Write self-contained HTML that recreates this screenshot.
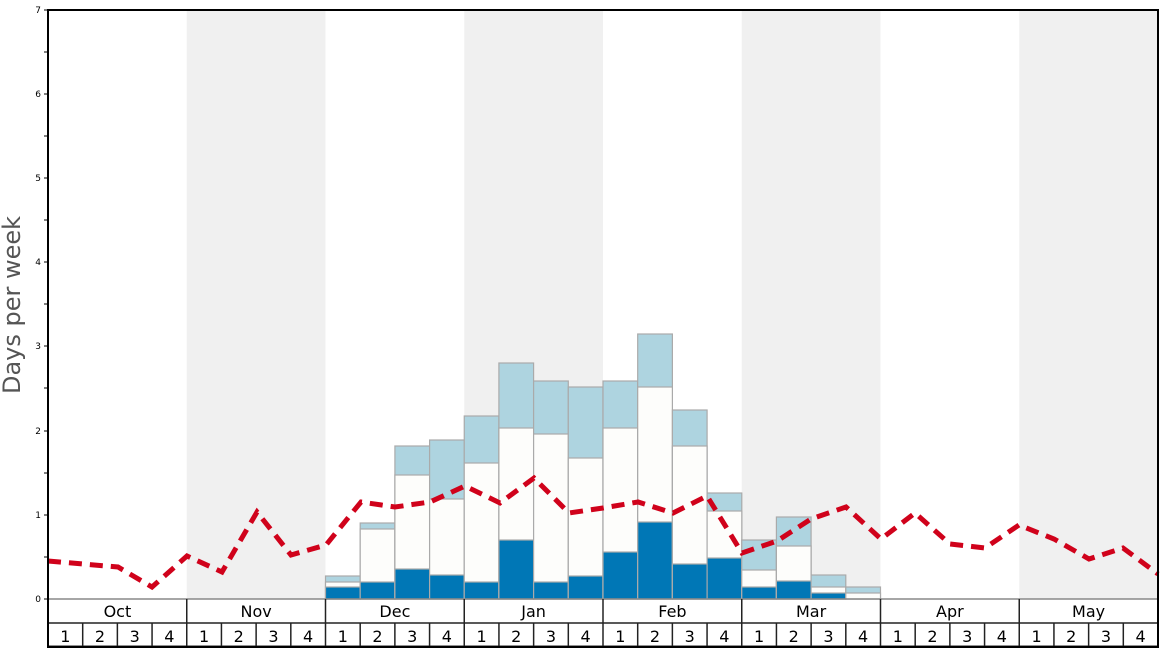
<!DOCTYPE html>
<html><head><meta charset="utf-8"><style>
html,body{margin:0;padding:0;background:#fff;}
svg{display:block;font-family:"DejaVu Sans","Liberation Sans",sans-serif;}
</style></head><body>
<svg width="1168" height="648" viewBox="0 0 1168 648" xmlns="http://www.w3.org/2000/svg">
<rect x="0" y="0" width="1168" height="648" fill="#fff"/>
<rect x="186.75" y="10" width="138.75" height="589" fill="#f0f0f0"/>
<rect x="464.25" y="10" width="138.75" height="589" fill="#f0f0f0"/>
<rect x="741.75" y="10" width="138.75" height="589" fill="#f0f0f0"/>
<rect x="1019.25" y="10" width="138.75" height="589" fill="#f0f0f0"/>
<g stroke="#aaa" stroke-width="1.2">
<rect x="325.5" y="576" width="34.69" height="23" fill="#aed4e0"/><rect x="325.5" y="582" width="34.69" height="17" fill="#fdfdfb"/><rect x="325.5" y="587" width="34.69" height="12" fill="#0077b6"/>
<rect x="360.2" y="523" width="34.69" height="76" fill="#aed4e0"/><rect x="360.2" y="529" width="34.69" height="70" fill="#fdfdfb"/><rect x="360.2" y="582" width="34.69" height="17" fill="#0077b6"/>
<rect x="394.9" y="446" width="34.69" height="153" fill="#aed4e0"/><rect x="394.9" y="475" width="34.69" height="124" fill="#fdfdfb"/><rect x="394.9" y="569" width="34.69" height="30" fill="#0077b6"/>
<rect x="429.6" y="440" width="34.69" height="159" fill="#aed4e0"/><rect x="429.6" y="499" width="34.69" height="100" fill="#fdfdfb"/><rect x="429.6" y="575" width="34.69" height="24" fill="#0077b6"/>
<rect x="464.25" y="416" width="34.69" height="183" fill="#aed4e0"/><rect x="464.25" y="463" width="34.69" height="136" fill="#fdfdfb"/><rect x="464.25" y="582" width="34.69" height="17" fill="#0077b6"/>
<rect x="498.9" y="363" width="34.69" height="236" fill="#aed4e0"/><rect x="498.9" y="428" width="34.69" height="171" fill="#fdfdfb"/><rect x="498.9" y="540" width="34.69" height="59" fill="#0077b6"/>
<rect x="533.6" y="381" width="34.69" height="218" fill="#aed4e0"/><rect x="533.6" y="434" width="34.69" height="165" fill="#fdfdfb"/><rect x="533.6" y="582" width="34.69" height="17" fill="#0077b6"/>
<rect x="568.3" y="387" width="34.69" height="212" fill="#aed4e0"/><rect x="568.3" y="458" width="34.69" height="141" fill="#fdfdfb"/><rect x="568.3" y="576" width="34.69" height="23" fill="#0077b6"/>
<rect x="603" y="381" width="34.69" height="218" fill="#aed4e0"/><rect x="603" y="428" width="34.69" height="171" fill="#fdfdfb"/><rect x="603" y="552" width="34.69" height="47" fill="#0077b6"/>
<rect x="637.7" y="334" width="34.69" height="265" fill="#aed4e0"/><rect x="637.7" y="387" width="34.69" height="212" fill="#fdfdfb"/><rect x="637.7" y="522" width="34.69" height="77" fill="#0077b6"/>
<rect x="672.4" y="410" width="34.69" height="189" fill="#aed4e0"/><rect x="672.4" y="446" width="34.69" height="153" fill="#fdfdfb"/><rect x="672.4" y="564" width="34.69" height="35" fill="#0077b6"/>
<rect x="707.1" y="493" width="34.69" height="106" fill="#aed4e0"/><rect x="707.1" y="511" width="34.69" height="88" fill="#fdfdfb"/><rect x="707.1" y="558" width="34.69" height="41" fill="#0077b6"/>
<rect x="741.75" y="540" width="34.69" height="59" fill="#aed4e0"/><rect x="741.75" y="570" width="34.69" height="29" fill="#fdfdfb"/><rect x="741.75" y="587" width="34.69" height="12" fill="#0077b6"/>
<rect x="776.4" y="517" width="34.69" height="82" fill="#aed4e0"/><rect x="776.4" y="546" width="34.69" height="53" fill="#fdfdfb"/><rect x="776.4" y="581" width="34.69" height="18" fill="#0077b6"/>
<rect x="811.1" y="575" width="34.69" height="24" fill="#aed4e0"/><rect x="811.1" y="587" width="34.69" height="12" fill="#fdfdfb"/><rect x="811.1" y="593" width="34.69" height="6" fill="#0077b6"/>
<rect x="845.8" y="587" width="34.69" height="12" fill="#aed4e0"/><rect x="845.8" y="593" width="34.69" height="6" fill="#fdfdfb"/>
</g>
<polyline fill="none" stroke="#d0021b" stroke-width="5" stroke-dasharray="13,8" points="48,561 83,564 118,567 152,587 187,556 222,572 257,512 291,555 326,545 361,502 395,507 430,502 465,486 500,503 534,478 569,513 603,508 638,502 673,513 707,496 742,553 777,541 811,519 846,507 881,539 915,513 950,544 985,548 1019,525 1054,539 1089,559 1123,548 1158,574"/>
<g stroke="#000" stroke-width="1">
<line x1="44" y1="10" x2="48" y2="10"/><line x1="44" y1="52" x2="48" y2="52"/>
<line x1="44" y1="94" x2="48" y2="94"/><line x1="44" y1="136" x2="48" y2="136"/>
<line x1="44" y1="178" x2="48" y2="178"/><line x1="44" y1="220" x2="48" y2="220"/>
<line x1="44" y1="262" x2="48" y2="262"/><line x1="44" y1="304" x2="48" y2="304"/>
<line x1="44" y1="346" x2="48" y2="346"/><line x1="44" y1="388" x2="48" y2="388"/>
<line x1="44" y1="431" x2="48" y2="431"/><line x1="44" y1="473" x2="48" y2="473"/>
<line x1="44" y1="515" x2="48" y2="515"/><line x1="44" y1="557" x2="48" y2="557"/>
<line x1="44" y1="599" x2="48" y2="599"/>
</g>
<g font-size="9" fill="#000" text-anchor="end">
<text x="41" y="13">7</text><text x="41" y="97">6</text><text x="41" y="181">5</text>
<text x="41" y="265">4</text><text x="41" y="349">3</text><text x="41" y="434">2</text>
<text x="41" y="518">1</text><text x="41" y="602">0</text>
</g>
<text transform="translate(20,305) rotate(-90)" font-size="24" fill="#555" text-anchor="middle">Days per week</text>
<line x1="48" y1="599" x2="1158" y2="599" stroke="#888" stroke-width="1.5"/>
<line x1="48" y1="623" x2="1158" y2="623" stroke="#222" stroke-width="1.5"/>
<line x1="48" y1="646.5" x2="1158" y2="646.5" stroke="#222" stroke-width="2"/>
<g stroke="#222" stroke-width="1.5">
<line x1="186.75" y1="599" x2="186.75" y2="647"/><line x1="325.5" y1="599" x2="325.5" y2="647"/>
<line x1="464.25" y1="599" x2="464.25" y2="647"/><line x1="603" y1="599" x2="603" y2="647"/>
<line x1="741.75" y1="599" x2="741.75" y2="647"/><line x1="880.5" y1="599" x2="880.5" y2="647"/>
<line x1="1019.25" y1="599" x2="1019.25" y2="647"/>
</g>
<g id="wk" stroke="#222" stroke-width="1.5"></g>
<g font-size="16" fill="#000" text-anchor="middle">
<text x="117.4" y="617">Oct</text><text x="256.1" y="617">Nov</text><text x="394.9" y="617">Dec</text>
<text x="533.6" y="617">Jan</text><text x="672.4" y="617">Feb</text><text x="811.1" y="617">Mar</text>
<text x="949.9" y="617">Apr</text><text x="1088.6" y="617">May</text>
</g>
<g id="wt" font-size="16" fill="#000" text-anchor="middle"></g>
<rect x="48" y="10" width="1110" height="637" fill="none" stroke="#000" stroke-width="2"/>
<script>
var wk=document.getElementById('wk'),wt=document.getElementById('wt'),ns='http://www.w3.org/2000/svg';
for(var i=0;i<32;i++){var x=48+i*34.6875;
 if(i%4){var l=document.createElementNS(ns,'line');l.setAttribute('x1',x);l.setAttribute('x2',x);l.setAttribute('y1',623);l.setAttribute('y2',647);wk.appendChild(l);}
 var t=document.createElementNS(ns,'text');t.setAttribute('x',x+17.34);t.setAttribute('y',642);t.textContent=(i%4)+1;wt.appendChild(t);}
</script>
</svg>
</body></html>
